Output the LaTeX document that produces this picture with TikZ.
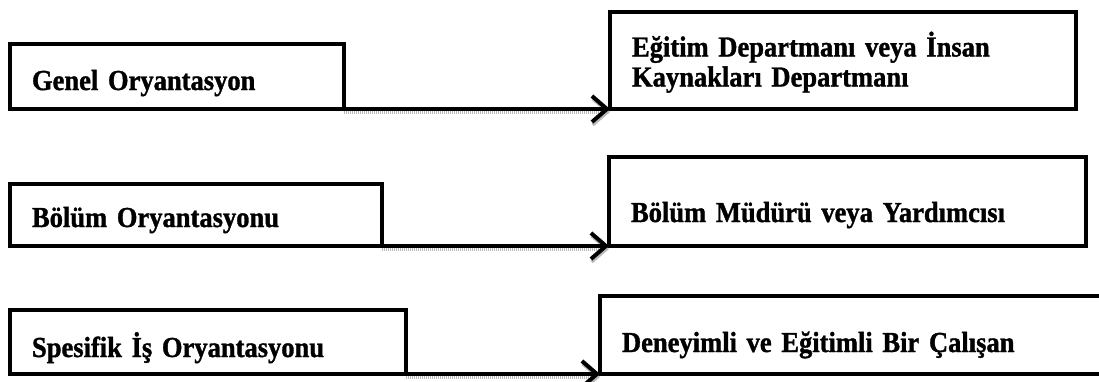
\documentclass[tikz,border=0pt]{standalone}
\usepackage{fontspec}
\setmainfont{Liberation Serif}[FakeStretch=0.915,FakeBold=1.2,WordSpace=0.7]
\usetikzlibrary{arrows.meta,positioning}

\tikzset{
  box/.style={draw,line width=4pt,outer sep=0pt,inner xsep=22pt,inner ysep=2pt,
    align=left,text depth=6pt,font=\bfseries\fontsize{29}{30}\selectfont},
  flow/.style={line width=4pt,-{Straight Barb[length=15pt,width=26pt]},
    preaction={draw=gray!55,line width=3pt,dash pattern=on 1pt off 1pt,
      transform canvas={yshift=-3pt}}}
}

\begin{document}
\begin{tikzpicture}[x=1pt,y=-1pt]
    \clip (0,0) rectangle (1099,381);
    % left column: type of orientation
    \node[box,text width=290pt,minimum width=334pt,minimum height=65pt,text height=33pt] (genel) at (177,76.5) {Genel Oryantasyon};
    \node[box,text width=328pt,minimum width=372pt,minimum height=62pt,text height=30pt] (bolum) at (196,215) {Bölüm Oryantasyonu};
    \node[box,text width=352pt,minimum width=396pt,minimum height=64pt,text height=36pt] (spesifik) at (208,342) {Spesifik İş Oryantasyonu};
    % right column: who gives it
    \node[box,text width=422pt,minimum width=466pt,minimum height=97pt,text height=28pt,text depth=36pt] (egitim) at (843,60.5) {Eğitim Departmanı veya İnsan\\Kaynakları Departmanı};
    \node[box,text width=433pt,minimum width=477pt,minimum height=89pt,text height=47pt] (mudur) at (847.5,201.5) {Bölüm Müdürü veya Yardımcısı};
    \node[box,text width=466pt,minimum width=510pt,minimum height=78pt,text height=40pt] (calisan) at (855,335) {Deneyimli ve Eğitimli Bir Çalışan};
    \draw[flow] (genel.south east)--(egitim.south west);
    \draw[flow] (bolum.south east)--(mudur.south west);
    \draw[flow] (spesifik.south east)--(calisan.south west);
\end{tikzpicture}
\end{document}
